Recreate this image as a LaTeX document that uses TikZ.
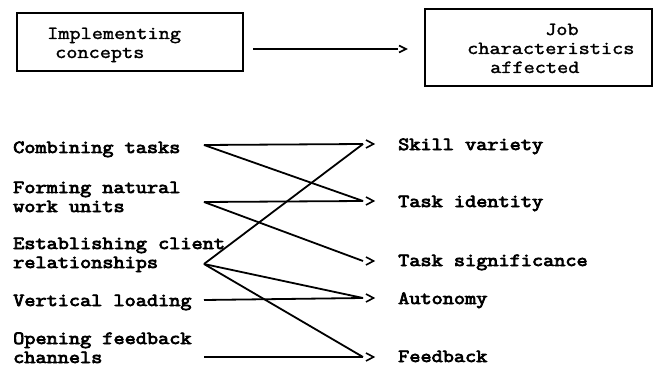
\documentclass[tikz,border=0pt]{standalone}
\usepackage{fontspec}
\newfontfamily\labfont{Latin Modern Mono}[FakeStretch=1.17,FakeBold=4]
\newfontfamily\boxfont{Latin Modern Mono}[FakeStretch=1.17,FakeBold=1.8]
\begin{document}
\begin{tikzpicture}[x=1pt,y=-1pt,
  lab/.style={anchor=base west,inner sep=0pt,font=\fontsize{18.5}{19}\labfont},
  boxtext/.style={anchor=base west,inner sep=0pt,font=\fontsize{18.5}{19}\boxfont},
  frame/.style={draw,line width=1.4pt,inner sep=0pt},
  conn/.style={line width=1.8pt},
  chev/.style={line width=1.6pt,line join=miter}]
\useasboundingbox (0,0) rectangle (654,369);
% top boxes
\node[frame,minimum width=226pt,minimum height=58pt] (b1) at (130,42) {};
\node[frame,minimum width=227pt,minimum height=77pt] (b2) at (538.5,47.5) {};
\node[boxtext] (t1a) at (47,39) {Implementing};
\node[boxtext] (t1b) at (55,58) {concepts};
\node[boxtext] (t2a) at (545,35) {Job};
\node[boxtext] (t2b) at (467,54) {characteristics};
\node[boxtext] (t2c) at (490,73) {affected};
\coordinate (ta) at (253,49);
\coordinate (tb) at (398,49);
\draw[conn] (ta) -- (tb);
\draw[chev] (tb) ++(1,-3.5) -- ++(7,3.5) -- ++(-7,3.5);
% left labels
\node[lab] (l1) at (13,153) {Combining tasks};
\node[lab] (l2a) at (13,193) {Forming natural};
\node[lab] (l2b) at (13,212) {work units};
\node[lab] (l3a) at (13,249) {Establishing client};
\node[lab] (l3b) at (13,268) {relationships};
\node[lab] (l4) at (13,306) {Vertical loading};
\node[lab] (l5a) at (13,344) {Opening feedback};
\node[lab] (l5b) at (13,363) {channels};
% right labels
\node[lab] (r1) at (398,150) {Skill variety};
\node[lab] (r2) at (398,207) {Task identity};
\node[lab] (r3) at (398,266) {Task significance};
\node[lab] (r4) at (398,304) {Autonomy};
\node[lab] (r5) at (398,362) {Feedback};
% start points
\coordinate (s1) at (204,145);
\coordinate (s2) at (204,202);
\coordinate (s3) at (204,264);
\coordinate (s4) at (204,300);
\coordinate (s5) at (204,357);
% end points
\coordinate (e1) at (363,144);
\coordinate (e2) at (363,201);
\coordinate (e3) at (363,261);
\coordinate (e4) at (363,298);
\coordinate (e5) at (363,357);
\foreach \e in {e1,e2,e3,e4,e5}
  \draw[chev] (\e) ++(3,-4) -- ++(7.5,4) -- ++(-7.5,4);
% connectors
\draw[conn] (s1) -- (e1);
\draw[conn] (s1) -- (e2);
\draw[conn] (s2) -- (e2);
\draw[conn] (s2) -- (e3);
\draw[conn] (s3) -- (e1);
\draw[conn] (s3) -- (e4);
\draw[conn] (s3) -- (e5);
\draw[conn] (s4) -- (e4);
\draw[conn] (s5) -- (e5);
\end{tikzpicture}
\end{document}
